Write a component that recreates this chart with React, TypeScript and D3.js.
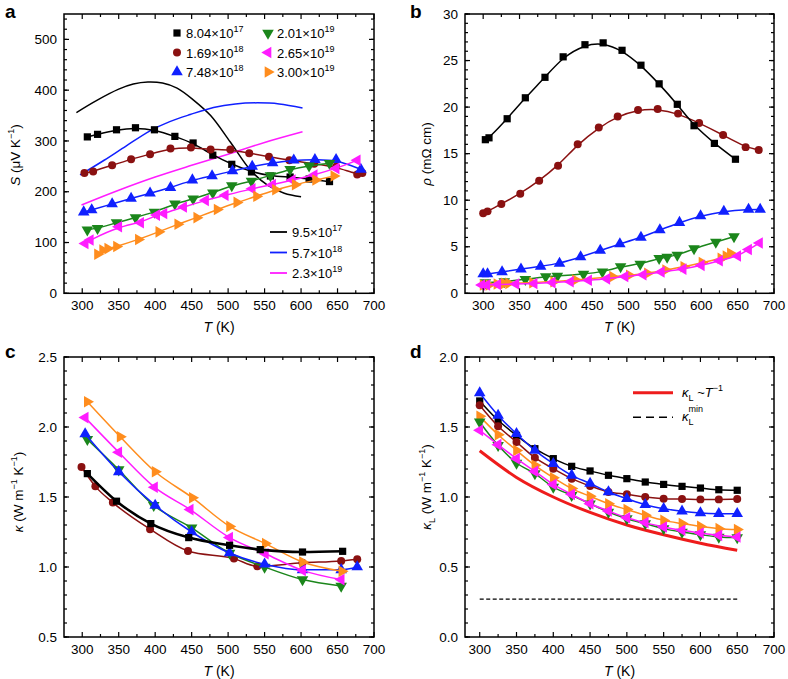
import * as d3 from "d3";

const FONT = "'Liberation Sans', Arial, Helvetica, sans-serif";

const BLACK = "#000000";
const BROWN = "#8a1111";
const BLUE = "#1020ff";
const GREEN = "#1b861b";
const MAGENTA = "#ff1cff";
const ORANGE = "#ff8d1e";
const RED = "#ee1c1c";

// ---- panel a : Seebeck S (uV/K) ----
const aBlackT = [307, 321, 347, 373, 399, 427, 452, 479, 505, 532, 558, 585, 611, 639];
const aBlackS = [308, 313, 322, 326, 322, 309, 296, 272, 254, 239, 231, 229, 225, 220];
const aBrownT = [303, 315, 341, 367, 393, 421, 449, 476, 503, 529, 556, 584, 618, 648, 677, 684];
const aBrownS = [237, 240, 252, 264, 274, 285, 287, 283, 283, 276, 269, 262, 255, 249, 234, 237];
const aBlueT = [302, 313, 341, 367, 393, 421, 451, 478, 506, 533, 561, 590, 619, 648, 682];
const aBlueS = [160, 164, 176, 187, 197, 208, 223, 231, 241, 250, 257, 262, 263, 263, 244];
const aGreenT = [307, 321, 347, 373, 399, 427, 452, 479, 505, 532, 558, 585, 611, 639];
const aGreenS = [125, 128, 139, 149, 160, 176, 186, 198, 212, 221, 232, 244, 251, 256];
const aMagT = [304, 311, 350, 380, 402, 412, 439, 469, 496, 533, 561, 588, 618, 648, 677];
const aMagS = [98, 105, 131, 139, 154, 157, 170, 183, 193, 206, 214, 223, 233, 246, 262];
const aOrT = [321, 328, 335, 347, 377, 405, 431, 457, 485, 512, 539, 565, 592, 620, 645];
const aOrS = [77, 85, 88, 92, 106, 121, 136, 149, 165, 179, 191, 204, 214, 223, 231];

// calculated curves (no markers)
const thBlackT = [292, 320, 350, 370, 390, 410, 430, 453, 476, 503, 531, 554, 577, 600];
const thBlackS = [356, 380, 402, 412, 416, 414, 404, 380, 350, 298, 242, 213, 197, 190];
const thBlueT = [297, 330, 360, 393, 420, 448, 480, 510, 540, 570, 602];
const thBlueS = [233, 262, 290, 320, 338, 352, 366, 373, 375, 373, 365];
const thMagT = [299, 350, 400, 450, 500, 550, 602];
const thMagS = [174, 203, 229, 252, 274, 297, 318];

const legendA = ["8.04", "1.69", "7.48", "2.01", "2.65", "3.00"];
const legendAExp = ["17", "18", "18", "19", "19", "19"];
const legendTh = ["9.5", "5.7", "2.3"];
const legendThExp = ["17", "18", "19"];

// ---- panel b : resistivity (mOhm cm) ----
const bBlackT = [303, 308, 333, 358, 385, 410, 440, 465, 491, 517, 542, 567, 590, 618, 647];
const bBlackR = [16.5, 16.7, 18.75, 21.0, 23.2, 25.4, 26.7, 26.9, 26.1, 24.5, 22.5, 20.3, 18.0, 16.1, 14.4];
const bBrownT = [300, 306, 325, 351, 377, 403, 430, 459, 485, 513, 540, 568, 597, 630, 661, 679];
const bBrownR = [8.6, 8.8, 9.6, 10.7, 12.1, 13.7, 16.0, 17.8, 19.0, 19.7, 19.8, 19.3, 18.3, 17.0, 15.7, 15.4];
const bBlueT = [300, 306, 326, 352, 379, 405, 434, 461, 488, 517, 543, 570, 599, 631, 665, 681];
const bBlueR = [2.07, 2.07, 2.3, 2.6, 2.9, 3.2, 3.9, 4.6, 5.3, 6.0, 6.8, 7.6, 8.3, 8.8, 9.0, 9.0];
const bGreenT = [303, 329, 358, 386, 402, 438, 464, 489, 516, 542, 553, 567, 590, 620, 645];
const bGreenR = [1.14, 1.25, 1.5, 1.8, 1.86, 2.07, 2.3, 2.86, 3.14, 3.75, 3.9, 4.1, 4.8, 5.5, 6.1];
const bMagT = [298, 305, 320, 345, 370, 395, 420, 445, 470, 495, 520, 545, 575, 600, 625, 650, 665, 680];
const bMagR = [0.9, 0.9, 0.95, 1.0, 1.05, 1.15, 1.25, 1.4, 1.55, 1.8, 2.0, 2.3, 2.6, 3.0, 3.5, 4.0, 4.7, 5.4];
const bOrT = [300, 308, 319, 329, 335, 368, 397, 427, 478, 501, 526, 551, 576, 601, 627, 634, 640];
const bOrR = [0.9, 0.9, 1.0, 1.07, 1.07, 1.14, 1.25, 1.43, 1.79, 1.93, 2.14, 2.5, 2.86, 3.3, 3.75, 4.0, 4.3];

// ---- panel c : total thermal conductivity ----
const cBlackT = [307, 347, 394, 446, 502, 544, 602, 657];
const cBlackK = [1.667, 1.47, 1.31, 1.21, 1.155, 1.124, 1.107, 1.112];
const cBrownT = [299, 318, 342, 393, 445, 508, 540, 602, 655, 677];
const cBrownK = [1.714, 1.576, 1.46, 1.27, 1.114, 1.06, 1.005, 1.03, 1.043, 1.055];
const cBlueT = [304, 350, 400, 450, 502, 550, 602, 655, 677];
const cBlueK = [1.95, 1.68, 1.44, 1.25, 1.1, 1.02, 0.98, 0.98, 1.0];
const cGreenT = [307, 350, 398, 450, 502, 550, 602, 655];
const cGreenK = [1.912, 1.695, 1.44, 1.28, 1.1, 1.0, 0.91, 0.864];
const cMagT = [304, 350, 399, 448, 502, 551, 602, 655];
const cMagK = [2.067, 1.82, 1.57, 1.41, 1.21, 1.095, 0.976, 0.91];
const cOrT = [307, 352, 400, 451, 502, 551, 602, 656];
const cOrK = [2.18, 1.93, 1.68, 1.495, 1.29, 1.167, 1.036, 0.97];

// ---- panel d : lattice thermal conductivity ----
const dT = [300, 325, 350, 375, 400, 425, 450, 475, 500, 525, 550, 575, 600, 625, 650];
const dBlack = [1.686, 1.548, 1.44, 1.345, 1.274, 1.219, 1.186, 1.155, 1.131, 1.107, 1.09, 1.076, 1.064, 1.052, 1.048];
const dBrown = [1.655, 1.505, 1.393, 1.281, 1.202, 1.131, 1.079, 1.036, 1.019, 1.0, 0.988, 0.986, 0.983, 0.983, 0.986];
const dBlue = [1.743, 1.583, 1.452, 1.333, 1.238, 1.155, 1.097, 1.036, 0.988, 0.945, 0.917, 0.898, 0.886, 0.881, 0.881];
const dGreen = [1.536, 1.369, 1.243, 1.167, 1.071, 1.012, 0.952, 0.893, 0.845, 0.81, 0.774, 0.75, 0.731, 0.714, 0.71];
const dMag = [1.476, 1.374, 1.274, 1.183, 1.09, 1.019, 0.952, 0.9, 0.852, 0.817, 0.786, 0.762, 0.743, 0.726, 0.714];
const dOr = [1.576, 1.445, 1.333, 1.226, 1.138, 1.06, 1.005, 0.952, 0.91, 0.869, 0.833, 0.81, 0.79, 0.774, 0.767];
const dInvT = [300, 350, 400, 450, 500, 550, 600, 650];
const dInvK = [1.33, 1.14, 1.0, 0.89, 0.8, 0.73, 0.67, 0.62];
const dMinT = [300, 650];
const dMinK = [0.27, 0.27];

const zip = (t: number[], v: number[]) => t.map((d, i) => [d, v[i]] as [number, number]);

function Marker({ kind, x, y, color }: any) {
  const rot: any = { square: 0, circle: 0, up: 0, down: 180, left: -90, right: 90 };
  const type = kind === "square" ? d3.symbolSquare : kind === "circle" ? d3.symbolCircle : d3.symbolTriangle;
  const size = kind === "square" ? 52 : kind === "circle" ? 50 : 58;
  return (
    <path
      d={d3.symbol(type, size)() as string}
      transform={`translate(${x},${y}) rotate(${rot[kind]})`}
      fill={color}
    />
  );
}

function Series({ x, y, pts, color, kind, curve, width = 1.5 }: any) {
  const line = d3
    .line<[number, number]>()
    .x((d) => x(d[0]))
    .y((d) => y(d[1]))
    .curve(curve);
  return (
    <g>
      <path d={line(pts) as string} fill="none" stroke={color} strokeWidth={width} />
      {pts.map((p: [number, number], i: number) => (
        <Marker key={i} kind={kind} x={x(p[0])} y={y(p[1])} color={color} />
      ))}
    </g>
  );
}

function Frame({ x, y, yMajor, yMinor, fmt }: any) {
  const [x0, x1] = x.range();
  const [y0, y1] = y.range();
  const xs = d3.range(300, 701, 25);
  return (
    <g fontFamily={FONT} fontSize={13.5}>
      {xs.map((t) => {
        const L = t % 50 === 0 ? 5 : 3;
        return (
          <g key={"x" + t}>
            <line x1={x(t)} x2={x(t)} y1={y0} y2={y0 - L} stroke="#000" strokeWidth={1.2} />
            <line x1={x(t)} x2={x(t)} y1={y1} y2={y1 + L} stroke="#000" strokeWidth={1.2} />
            {t % 50 === 0 && (
              <text x={x(t)} y={y0 + 17} textAnchor="middle">
                {t}
              </text>
            )}
          </g>
        );
      })}
      {yMinor.map((v: number) => (
        <g key={"m" + v}>
          <line x1={x0} x2={x0 + 3} y1={y(v)} y2={y(v)} stroke="#000" strokeWidth={1.2} />
          <line x1={x1} x2={x1 - 3} y1={y(v)} y2={y(v)} stroke="#000" strokeWidth={1.2} />
        </g>
      ))}
      {yMajor.map((v: number) => (
        <g key={"M" + v}>
          <line x1={x0} x2={x0 + 5} y1={y(v)} y2={y(v)} stroke="#000" strokeWidth={1.2} />
          <line x1={x1} x2={x1 - 5} y1={y(v)} y2={y(v)} stroke="#000" strokeWidth={1.2} />
          <text x={x0 - 7} y={y(v)} dy="0.35em" textAnchor="end">
            {fmt(v)}
          </text>
        </g>
      ))}
      <rect x={x0} y={y1} width={x1 - x0} height={y0 - y1} fill="none" stroke="#000" strokeWidth={1.5} />
      <text x={(x0 + x1) / 2} y={y0 + 39} textAnchor="middle" fontSize={14}>
        <tspan fontStyle="italic">T</tspan> (K)
      </text>
    </g>
  );
}

export default function App() {
  const xa = d3.scaleLinear().domain([275, 700]).range([64, 374]);
  const ya = d3.scaleLinear().domain([0, 550]).range([293.3, 14]);
  const xb = d3.scaleLinear().domain([275, 700]).range([465, 774]);
  const yb = d3.scaleLinear().domain([0, 30]).range([293.3, 14]);
  const xc = d3.scaleLinear().domain([275, 700]).range([64, 374]);
  const yc = d3.scaleLinear().domain([0.5, 2.5]).range([637, 357]);
  const xd = d3.scaleLinear().domain([280, 700]).range([465, 774]);
  const yd = d3.scaleLinear().domain([0, 2.0]).range([637, 357]);

  const basis = d3.curveBasis;
  const cr = d3.curveCatmullRom.alpha(0.5);
  const mono = d3.curveMonotoneX;
  const f0 = d3.format("d");
  const f1 = d3.format(".1f");

  const aSeries = [
    { t: aBlackT, v: aBlackS, c: BLACK, k: "square" },
    { t: aBrownT, v: aBrownS, c: BROWN, k: "circle" },
    { t: aBlueT, v: aBlueS, c: BLUE, k: "up" },
    { t: aGreenT, v: aGreenS, c: GREEN, k: "down" },
    { t: aMagT, v: aMagS, c: MAGENTA, k: "left" },
    { t: aOrT, v: aOrS, c: ORANGE, k: "right" },
  ];
  const bSeries = [
    { t: bBrownT, v: bBrownR, c: BROWN, k: "circle" },
    { t: bBlackT, v: bBlackR, c: BLACK, k: "square" },
    { t: bBlueT, v: bBlueR, c: BLUE, k: "up" },
    { t: bGreenT, v: bGreenR, c: GREEN, k: "down" },
    { t: bOrT, v: bOrR, c: ORANGE, k: "right" },
    { t: bMagT, v: bMagR, c: MAGENTA, k: "left" },
  ];
  const cSeries = [
    { t: cBrownT, v: cBrownK, c: BROWN, k: "circle", w: 1.5 },
    { t: cGreenT, v: cGreenK, c: GREEN, k: "down", w: 1.5 },
    { t: cBlueT, v: cBlueK, c: BLUE, k: "up", w: 1.5 },
    { t: cMagT, v: cMagK, c: MAGENTA, k: "left", w: 1.5 },
    { t: cOrT, v: cOrK, c: ORANGE, k: "right", w: 1.5 },
    { t: cBlackT, v: cBlackK, c: BLACK, k: "square", w: 2.6 },
  ];
  const dSeries = [
    { v: dBlack, c: BLACK, k: "square" },
    { v: dBrown, c: BROWN, k: "circle" },
    { v: dBlue, c: BLUE, k: "up" },
    { v: dOr, c: ORANGE, k: "right" },
    { v: dGreen, c: GREEN, k: "down" },
    { v: dMag, c: MAGENTA, k: "left" },
  ];
  const legKinds = ["square", "circle", "up", "down", "left", "right"];
  const legColors = [BLACK, BROWN, BLUE, GREEN, MAGENTA, ORANGE];
  const thColors = [BLACK, BLUE, MAGENTA];

  const lineA = d3
    .line<[number, number]>()
    .x((d) => xa(d[0]))
    .y((d) => ya(d[1]))
    .curve(cr);
  const lineD = d3
    .line<[number, number]>()
    .x((d) => xd(d[0]))
    .y((d) => yd(d[1]))
    .curve(d3.curveMonotoneX);

  return (
    <svg
      width={788}
      height={679}
      style={{ position: "absolute", left: 0, top: 0, background: "#fff" }}
      fontFamily={FONT}
    >
      {/* panel labels */}
      <g fontWeight="bold" fontSize={19}>
        <text x={5} y={18}>a</text>
        <text x={410} y={18}>b</text>
        <text x={5} y={358}>c</text>
        <text x={410} y={358}>d</text>
      </g>

      {/* ===== a ===== */}
      {[zip(thBlackT, thBlackS), zip(thBlueT, thBlueS), zip(thMagT, thMagS)].map((pts, i) => (
        <path key={"th" + i} d={lineA(pts) as string} fill="none" stroke={thColors[i]} strokeWidth={1.5} />
      ))}
      {aSeries.map((s, i) => (
        <Series key={"a" + i} x={xa} y={ya} pts={zip(s.t, s.v)} color={s.c} kind={s.k} curve={basis} />
      ))}
      <Frame x={xa} y={ya} yMajor={d3.range(0, 501, 100)} yMinor={d3.range(0, 541, 20)} fmt={f0} />
      <g fontSize={13}>
        {legendA.map((m, i) => {
          const col = Math.floor(i / 3);
          const row = i % 3;
          const mx = col === 0 ? 177 : 268;
          const my = 33 + row * 19.5;
          return (
            <g key={"la" + i}>
              <Marker kind={legKinds[i]} x={mx} y={my} color={legColors[i]} />
              <text x={mx + 9} y={my + 5}>
                {m}×10
                <tspan fontSize={9} dy={-6}>
                  {legendAExp[i]}
                </tspan>
              </text>
            </g>
          );
        })}
        {legendTh.map((m, i) => {
          const ly = 232 + i * 20.5;
          return (
            <g key={"lt" + i}>
              <line x1={270} x2={287} y1={ly} y2={ly} stroke={thColors[i]} strokeWidth={1.8} />
              <text x={292} y={ly + 5}>
                {m}×10
                <tspan fontSize={9} dy={-6}>
                  {legendThExp[i]}
                </tspan>
              </text>
            </g>
          );
        })}
      </g>
      <text transform="translate(20,155) rotate(-90)" textAnchor="middle" fontSize={13.5}>
        <tspan fontStyle="italic">S</tspan>
        <tspan> (μV K</tspan>
        <tspan fontSize={9} dy={-6}>−1</tspan>
        <tspan dy={6}>)</tspan>
      </text>

      {/* ===== b ===== */}
      {bSeries.map((s, i) => (
        <Series key={"b" + i} x={xb} y={yb} pts={zip(s.t, s.v)} color={s.c} kind={s.k} curve={basis} />
      ))}
      <Frame x={xb} y={yb} yMajor={d3.range(0, 31, 5)} yMinor={d3.range(0, 31, 1)} fmt={f0} />
      <text transform="translate(431,154) rotate(-90)" textAnchor="middle" fontSize={13.5}>
        <tspan fontStyle="italic">ρ</tspan>
        <tspan> (mΩ cm)</tspan>
      </text>

      {/* ===== c ===== */}
      {cSeries.map((s, i) => (
        <Series key={"c" + i} x={xc} y={yc} pts={zip(s.t, s.v)} color={s.c} kind={s.k} curve={mono} width={s.w} />
      ))}
      <Frame
        x={xc}
        y={yc}
        yMajor={[0.5, 1.0, 1.5, 2.0, 2.5]}
        yMinor={d3.range(5, 26).map((v) => v / 10)}
        fmt={f1}
      />
      <text transform="translate(23,492) rotate(-90)" textAnchor="middle" fontSize={13.5}>
        <tspan fontStyle="italic">κ</tspan>
        <tspan> (W m</tspan>
        <tspan fontSize={9} dy={-6}>−1</tspan>
        <tspan dy={6}> K</tspan>
        <tspan fontSize={9} dy={-6}>−1</tspan>
        <tspan dy={6}>)</tspan>
      </text>

      {/* ===== d ===== */}
      <path d={lineD(zip(dInvT, dInvK)) as string} fill="none" stroke={RED} strokeWidth={3} />
      <path
        d={lineD(zip(dMinT, dMinK)) as string}
        fill="none"
        stroke="#000"
        strokeWidth={1.3}
        strokeDasharray="4,2.5"
      />
      {dSeries.map((s, i) => (
        <Series key={"d" + i} x={xd} y={yd} pts={zip(dT, s.v)} color={s.c} kind={s.k} curve={cr} />
      ))}
      <Frame
        x={xd}
        y={yd}
        yMajor={[0, 0.5, 1.0, 1.5, 2.0]}
        yMinor={d3.range(0, 21).map((v) => v / 10)}
        fmt={f1}
      />
      <g fontSize={13}>
        <line x1={633} x2={673} y1={392.7} y2={392.7} stroke={RED} strokeWidth={3} />
        <text x={682} y={397}>
          <tspan fontStyle="italic">κ</tspan>
          <tspan fontSize={9} dy={4}>L</tspan>
          <tspan dy={-4}> ~</tspan>
          <tspan fontStyle="italic">T</tspan>
          <tspan fontSize={9} dy={-6}>−1</tspan>
        </text>
        <line x1={633} x2={673} y1={417.3} y2={417.3} stroke="#000" strokeWidth={1.5} strokeDasharray="8,5" />
        <text x={682} y={421}>
          <tspan fontStyle="italic">κ</tspan>
          <tspan fontSize={9} dy={4}>L</tspan>
          <tspan fontSize={9} dx={-5} dy={-13}>min</tspan>
        </text>
      </g>
      <text transform="translate(431,487) rotate(-90)" textAnchor="middle" fontSize={13.5}>
        <tspan fontStyle="italic">κ</tspan>
        <tspan fontSize={9} dy={4}>L</tspan>
        <tspan dy={-4}> (W m</tspan>
        <tspan fontSize={9} dy={-6}>−1</tspan>
        <tspan dy={6}> K</tspan>
        <tspan fontSize={9} dy={-6}>−1</tspan>
        <tspan dy={6}>)</tspan>
      </text>
    </svg>
  );
}
